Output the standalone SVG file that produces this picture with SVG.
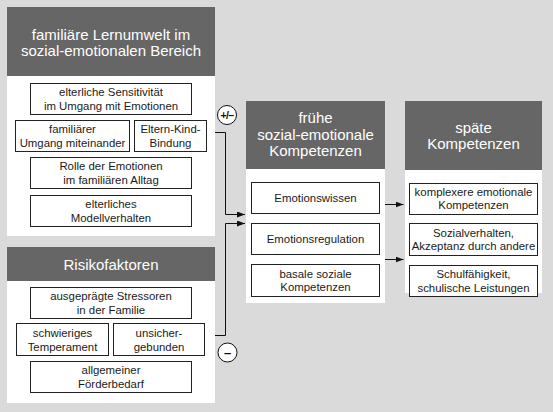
<svg xmlns="http://www.w3.org/2000/svg" width="553" height="412" viewBox="0 0 553 412">
<defs>
<style>
.bg{fill:#dadada}
.panel{fill:#ffffff}
.head{fill:#666666}
.ht{font-family:"Liberation Sans",Arial,sans-serif;font-size:15px;fill:#ffffff;text-anchor:middle}
.box{fill:#ffffff;stroke:#222222;stroke-width:1}
.bt{font-family:"Liberation Sans",Arial,sans-serif;font-size:11.4px;fill:#1a1a1a;text-anchor:middle}
.con{fill:none;stroke:#111111;stroke-width:1}
.sign{fill:#ffffff;stroke:#111111;stroke-width:1}
.st{font-family:"Liberation Sans",Arial,sans-serif;font-weight:bold;fill:#111111;text-anchor:middle}
</style>
<marker id="arr" viewBox="0 0 8 6" refX="8" refY="3" markerWidth="8" markerHeight="6" markerUnits="userSpaceOnUse" orient="auto">
<path d="M0,0 L8,3 L0,6 z" fill="#111111"/>
</marker>
</defs>
<rect class="bg" x="0" y="0" width="553" height="412"/>

<g id="familiaere-lernumwelt">
<rect class="panel" x="7" y="7" width="208" height="229"/>
<rect class="head" x="7" y="7" width="208" height="69"/>
<text class="ht" x="111" y="39.5">familiäre Lernumwelt im</text>
<text class="ht" x="111" y="55.5">sozial-emotionalen Bereich</text>
</g>
<g id="sensitivitaet">
<rect class="box" x="30.5" y="83.5" width="161" height="31"/>
<text class="bt" x="111" y="96">elterliche Sensitivität</text>
<text class="bt" x="111" y="110">im Umgang mit Emotionen</text>
</g>
<g id="umgang">
<rect class="box" x="15.5" y="120.5" width="114" height="31"/>
<text class="bt" x="72.5" y="133">familiärer</text>
<text class="bt" x="72.5" y="147">Umgang miteinander</text>
</g>
<g id="bindung">
<rect class="box" x="134.5" y="120.5" width="72" height="31"/>
<text class="bt" x="170.5" y="133">Eltern-Kind-</text>
<text class="bt" x="170.5" y="147">Bindung</text>
</g>
<g id="rolle">
<rect class="box" x="30.5" y="157.5" width="161" height="31"/>
<text class="bt" x="111" y="170">Rolle der Emotionen</text>
<text class="bt" x="111" y="184">im familiären Alltag</text>
</g>
<g id="modell">
<rect class="box" x="30.5" y="195.5" width="161" height="31"/>
<text class="bt" x="111" y="208">elterliches</text>
<text class="bt" x="111" y="222">Modellverhalten</text>
</g>

<g id="risikofaktoren">
<rect class="panel" x="7" y="247" width="208" height="156"/>
<rect class="head" x="7" y="247" width="208" height="34"/>
<text class="ht" x="111" y="270">Risikofaktoren</text>
</g>
<g id="stressoren">
<rect class="box" x="30.5" y="287.5" width="161" height="31"/>
<text class="bt" x="111" y="300">ausgeprägte Stressoren</text>
<text class="bt" x="111" y="314">in der Familie</text>
</g>
<g id="temperament">
<rect class="box" x="16.5" y="323.5" width="92" height="32"/>
<text class="bt" x="62.5" y="336.5">schwieriges</text>
<text class="bt" x="62.5" y="350.5">Temperament</text>
</g>
<g id="unsicher">
<rect class="box" x="113.5" y="323.5" width="91" height="32"/>
<text class="bt" x="159" y="336.5">unsicher-</text>
<text class="bt" x="159" y="350.5">gebunden</text>
</g>
<g id="foerderbedarf">
<rect class="box" x="30.5" y="361.5" width="161" height="31"/>
<text class="bt" x="111" y="374">allgemeiner</text>
<text class="bt" x="111" y="388">Förderbedarf</text>
</g>

<g id="fruehe-kompetenzen">
<rect class="panel" x="246" y="101" width="139" height="202"/>
<rect class="head" x="246" y="101" width="139" height="68"/>
<text class="ht" x="315.5" y="123">frühe</text>
<text class="ht" x="315.5" y="139.5">sozial-emotionale</text>
<text class="ht" x="315.5" y="156">Kompetenzen</text>
</g>
<g id="emotionswissen">
<rect class="box" x="251.5" y="182.5" width="128" height="31"/>
<text class="bt" x="315.5" y="202">Emotionswissen</text>
</g>
<g id="emotionsregulation">
<rect class="box" x="251.5" y="223.5" width="128" height="31"/>
<text class="bt" x="315.5" y="243">Emotionsregulation</text>
</g>
<g id="basale">
<rect class="box" x="251.5" y="264.5" width="128" height="32"/>
<text class="bt" x="315.5" y="277.5">basale soziale</text>
<text class="bt" x="315.5" y="291">Kompetenzen</text>
</g>

<g id="spaete-kompetenzen">
<rect class="panel" x="405" y="101" width="137" height="192"/>
<rect class="head" x="405" y="101" width="137" height="69"/>
<text class="ht" x="473.5" y="133">späte</text>
<text class="ht" x="473.5" y="149">Kompetenzen</text>
</g>
<g id="komplexere">
<rect class="box" x="409.5" y="183.5" width="128" height="31"/>
<text class="bt" x="473.5" y="195.5">komplexere emotionale</text>
<text class="bt" x="473.5" y="209">Kompetenzen</text>
</g>
<g id="sozialverhalten">
<rect class="box" x="409.5" y="223.5" width="128" height="32"/>
<text class="bt" x="473.5" y="236.5">Sozialverhalten,</text>
<text class="bt" x="473.5" y="250">Akzeptanz durch andere</text>
</g>
<g id="schulfaehigkeit">
<rect class="box" x="409.5" y="265.5" width="128" height="31"/>
<text class="bt" x="473.5" y="278">Schulfähigkeit,</text>
<text class="bt" x="473.5" y="291.5">schulische Leistungen</text>
</g>

<g id="connectors">
<path class="con" d="M215,132.5 H225.5 V214.5 H245" marker-end="url(#arr)"/>
<path class="con" d="M215,335.5 H225.5 V223.5 H245" marker-end="url(#arr)"/>
<path class="con" d="M385,204.5 H403.5" marker-end="url(#arr)"/>
<path class="con" d="M385,259.5 H403.5" marker-end="url(#arr)"/>
</g>

<g id="sign-plusminus">
<circle class="sign" cx="227" cy="115" r="9.5"/>
<text class="st" x="227" y="118.8" font-size="10.5" letter-spacing="-0.6">+/–</text>
</g>
<g id="sign-minus">
<circle class="sign" cx="227.5" cy="352.5" r="9.5"/>
<text class="st" x="227.5" y="357" font-size="13">–</text>
</g>
</svg>
